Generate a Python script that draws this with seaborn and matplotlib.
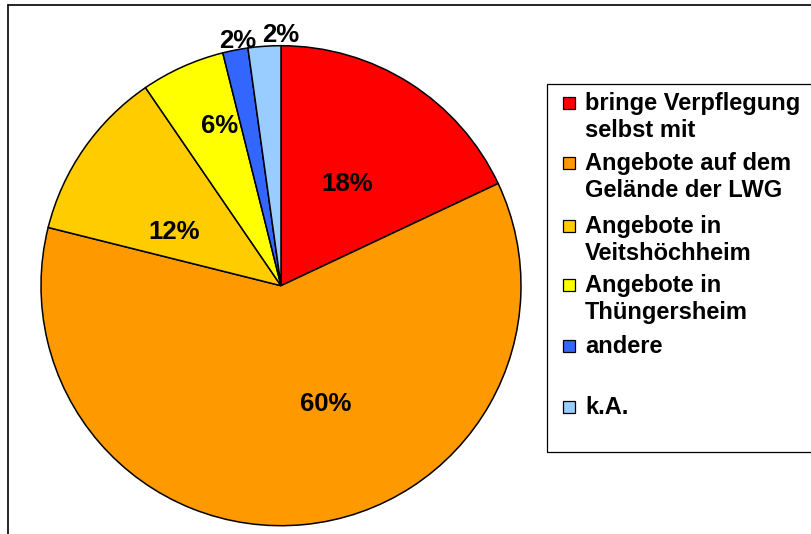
import numpy as np
import matplotlib
matplotlib.use("Agg")
import matplotlib.pyplot as plt
import seaborn as sns
from matplotlib.patches import Rectangle
from matplotlib.lines import Line2D

sns.set_style("white")
plt.rcParams['font.family'] = ['Liberation Sans', 'DejaVu Sans']
plt.rcParams['text.color'] = 'black'

# data (share of answers) and the printed labels
categories = ["bringe Verpflegung\nselbst mit",
              "Angebote auf dem\nGelände der LWG",
              "Angebote in\nVeitshöchheim",
              "Angebote in\nThüngersheim",
              "andere",
              "k.A."]
values = [18.0, 60.9, 11.55, 5.65, 1.7, 2.2]
pct_labels = ["18%", "60%", "12%", "6%", "2%", "2%"]
colors = ["#FF0000", "#FF9900", "#FFCC00", "#FFFF00", "#3366FF", "#99CCFF"]

# label placement (distance from centre, angle shift in degrees)
label_r = [0.51, 0.52, 0.50, 0.72, 1.04, 1.05]
label_shift = [-0.5, 15.5, 7.5, -3.3, -1, -3.8]

W, H = 812, 534
fig = plt.figure(figsize=(W / 100, H / 100), dpi=100)

# pie axes: centre (281, 285.7) px, radius 240 px
cx, cy, R = 281, 285.7, 240
ax = fig.add_axes([(cx - R) / W, (H - cy - R) / H, 2 * R / W, 2 * R / H])
wedges, _ = ax.pie(values, colors=colors, startangle=90, counterclock=False,
                   radius=1.0,
                   wedgeprops=dict(edgecolor="black", linewidth=1.1))
ax.set_xlim(-1, 1)
ax.set_ylim(-1, 1)
ax.set_aspect("equal")
ax.axis("off")

for w, lab, r, s in zip(wedges, pct_labels, label_r, label_shift):
    mid = np.deg2rad((w.theta1 + w.theta2) / 2 + s)
    ax.text(r * np.cos(mid), r * np.sin(mid) - 0.006, lab,
            ha="center", va="center", fontsize=18.5, fontweight="bold",
            clip_on=False)

# outer frame (only left and top are visible)
fig.add_artist(Line2D([8 / W, 8 / W], [0, (H - 5) / H], color="black", lw=1.2))
fig.add_artist(Line2D([8 / W, 1], [(H - 5) / H, (H - 5) / H], color="black", lw=1.2))

# legend box
lx0, ly0, ly1 = 547, 84, 452
fig.add_artist(Rectangle((lx0 / W, (H - ly1) / H), (W - lx0 + 10) / W, (ly1 - ly0) / H,
                         facecolor="white", edgecolor="black", lw=0.9,
                         transform=fig.transFigure))

entry_y = [103, 163, 226, 285, 346, 407]
sq = 12
for lab, col, y in zip(categories, colors, entry_y):
    fig.add_artist(Rectangle((563 / W, (H - y - sq / 2) / H), sq / W, sq / H,
                             facecolor=col, edgecolor="black", lw=0.9,
                             transform=fig.transFigure))
    for i, line in enumerate(lab.split("\n")):
        fig.text(585 / W, (H - (y + 7 + i * 27)) / H, line,
                 ha="left", va="baseline", fontsize=17, fontweight="bold")

fig.savefig("out.png", dpi=100)
